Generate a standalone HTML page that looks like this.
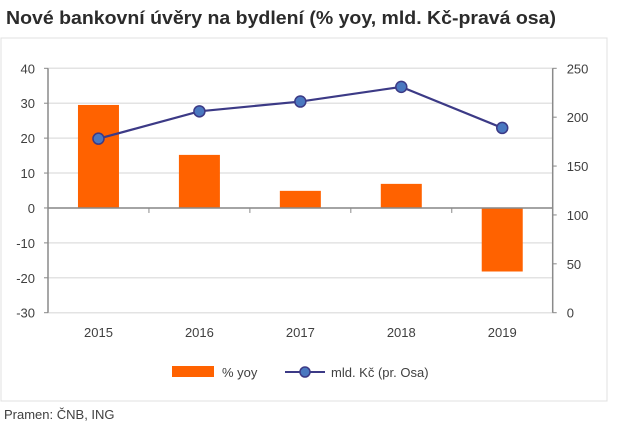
<!DOCTYPE html>
<html><head><meta charset="utf-8"><style>
body{margin:0;background:#fff;width:640px;height:431px;overflow:hidden;font-family:"Liberation Sans",sans-serif}
svg text{font-family:"Liberation Sans",sans-serif;fill:#404040}
</style></head><body>
<svg width="640" height="431">
<text x="6" y="24" textLength="550" lengthAdjust="spacingAndGlyphs" style="font-size:18px;font-weight:bold;fill:#2b2b2b">Nové bankovní úvěry na bydlení (% yoy, mld. Kč-pravá osa)</text>
<rect x="1" y="38" width="606" height="363" fill="none" stroke="#e0e0e0"/>
<g id="grid"></g><g id="bars"></g><g id="axes"></g><g id="line"></g>
<g>
<rect x="172" y="366" width="42" height="11" fill="#ff6200"/>
<text x="222" y="377" font-size="13">% yoy</text>
<line x1="285" y1="372" x2="325" y2="372" stroke="#3c3a86" stroke-width="2"/>
<circle cx="305" cy="372" r="5" fill="#4a78c0" stroke="#3c3a86" stroke-width="1.5"/>
<text x="331" y="377" font-size="13">mld. Kč (pr. Osa)</text>
</g>
<text x="4" y="419" font-size="13">Pramen: ČNB, ING</text>
</svg>
<script>
const categories=["2015","2016","2017","2018","2019"];
const yoyValues=[29.5,15.2,4.9,6.9,-18.2];
const volumeValues=[178,206,216,231,189];
const leftTicks=[40,30,20,10,0,-10,-20,-30];
const rightTicks=[250,200,150,100,50,0];
const NS="http://www.w3.org/2000/svg";
const X0=48,X1=552.7,L0=-30,L1=40,R0=0,R1=250,YT=68.3,YB=312.7;
const yl=v=>YB-(v-L0)/(L1-L0)*(YB-YT);
const yr=v=>YB-(v-R0)/(R1-R0)*(YB-YT);
const cw=(X1-X0)/categories.length;
const xc=i=>X0+cw*(i+0.5);
function mk(tag,at,parent){const e=document.createElementNS(NS,tag);for(const k in at)e.setAttribute(k,at[k]);document.getElementById(parent).appendChild(e);return e;}
leftTicks.forEach(t=>{
 const g=mk("line",{x1:X0,x2:X1,y1:yl(t),y2:yl(t),stroke:"#e3e3e3","stroke-width":1.5},"grid");
 
 
 const tx=mk("text",{x:X0-13,y:yl(t)+5,"text-anchor":"end","font-size":"13"},"axes");tx.textContent=t;
 
 
 mk("line",{x1:X0-4,x2:X0,y1:yl(t),y2:yl(t),stroke:"#888"},"axes");
});
rightTicks.forEach(t=>{
 const tx=mk("text",{x:X1+14,y:yr(t)+5,"font-size":"13"},"axes");tx.textContent=t;
 
 
 mk("line",{x1:X1,x2:X1+4,y1:yr(t),y2:yr(t),stroke:"#888"},"axes");
});
let a=mk("line",{x1:X0,x2:X0,y1:YT,y2:YB,stroke:"#8a8a8a","stroke-width":1.5},"axes");


a=mk("line",{x1:X1,x2:X1,y1:YT,y2:YB,stroke:"#8a8a8a","stroke-width":1.5},"axes");


a=mk("line",{x1:X0,x2:X1,y1:yl(0),y2:yl(0),stroke:"#8a8a8a","stroke-width":1.5},"axes");


categories.forEach((c,i)=>{
 const xt=X0+cw*i;mk("line",{x1:xt,x2:xt,y1:yl(0),y2:yl(0)+5,stroke:"#8a8a8a"},"axes");
 const tx=mk("text",{x:xc(i),y:337,"text-anchor":"middle","font-size":"13"},"axes");tx.textContent=c;
 
 
 const v=yoyValues[i];
 const b=mk("rect",{x:xc(i)-20.5,width:41,y:Math.min(yl(v),yl(0)),height:Math.abs(yl(v)-yl(0)),fill:"#ff6200"},"bars");
 
 
});
const pts=volumeValues.map((v,i)=>xc(i)+","+yr(v)).join(" ");
const pl=mk("polyline",{points:pts,fill:"none",stroke:"#3c3a86","stroke-width":2.2},"line");


volumeValues.forEach((v,i)=>{
 const p=mk("circle",{cx:xc(i),cy:yr(v),r:5.5,fill:"#4a78c0",stroke:"#3c3a86","stroke-width":1.5},"line");
 
 
});
</script>
</body></html>
